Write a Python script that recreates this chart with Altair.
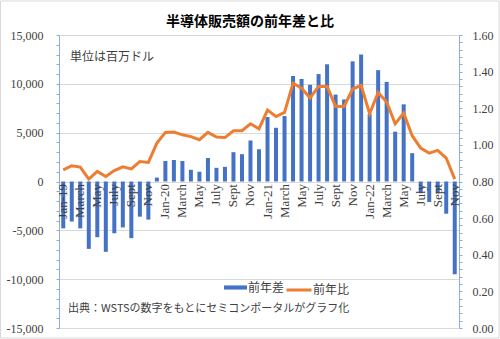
import altair as alt
import pandas as pd

# ---- data ----
years = ["19", "20", "21", "22"]
month_names = ["Jan", "Feb", "March", "April", "May", "June", "July", "Aug",
               "Sept", "Oct", "Nov", "Dec"]
months = []
for y in years:
    for i, m in enumerate(month_names):
        months.append(f"Jan-{y}" if i == 0 else m)
months = months[:47]  # Jan-19 .. Nov-22

diff = [-4800, -4100, -4800, -6900, -5700, -7200, -5300, -4700, -5800, -3600, -3900, 400,
        2100, 2200, 2100, 1200, 1000, 2400, 1400, 1500, 3000, 2800, 4200, 3300,
        6600, 5500, 6700, 10800, 10500, 9900, 11000, 12000, 8900, 8400, 12300, 13000,
        6900, 11400, 10200, 5100, 7900, 2900, -1200, -2100, -1200, -3300, -9500]

ratio = [0.864, 0.886, 0.879, 0.813, 0.855, 0.827, 0.860, 0.880, 0.869, 0.909, 0.904, 1.010,
         1.068, 1.070, 1.055, 1.045, 1.028, 1.068, 1.043, 1.040, 1.077, 1.077, 1.115, 1.088,
         1.190, 1.155, 1.177, 1.337, 1.310, 1.256, 1.319, 1.319, 1.210, 1.210, 1.305, 1.325,
         1.170, 1.286, 1.234, 1.115, 1.174, 1.050, 0.982, 0.955, 0.970, 0.928, 0.813]

series_bar = "前年差"
series_line = "前年比"
title_text = "半導体販売額の前年差と比"
unit_text = "単位は百万ドル"
source_text = "出典：WSTSの数字をもとにセミコンポータルがグラフ化"

df = pd.DataFrame({
    "idx": list(range(len(months))),
    "label": months,
    "diff": diff,
    "ratio": ratio,
    "s1": series_bar,
    "s2": series_line,
})

shown = [m if i % 2 == 0 else "" for i, m in enumerate(months)]
label_expr = "[" + ",".join("'" + s + "'" for s in shown) + "][datum.value]"

BLUE = "#4472C4"
ORANGE = "#ED7D31"
AXIS_BLUE = "#8FAADC"
GRID = "#D9D9D9"
TXT = "#404040"
SERIF = "Liberation Serif"
JP = "Noto Sans CJK JP"

x_enc = alt.X(
    "idx:O",
    title=None,
    axis=alt.Axis(
        labelExpr=label_expr, labelAngle=-90, offset=-146.5, domain=False,
        ticks=False, grid=False, labelFont=SERIF, labelFontSize=13,
        labelColor=TXT, labelPadding=2, labelOverlap=False, zindex=1,
    ),
)

left_ticks = list(range(-15000, 15001, 1000))
right_ticks = [round(i * 0.04, 2) for i in range(41)]

bars = alt.Chart(df).mark_bar(size=4).encode(
    x=x_enc,
    y=alt.Y(
        "diff:Q",
        title=None,
        scale=alt.Scale(domain=[-15000, 15000], nice=False),
        axis=alt.Axis(
            values=left_ticks,
            labelExpr="datum.value % 5000 == 0 ? replace(format(datum.value, ','), '\u2212', '-') : ''",
            labelFont=SERIF, labelFontSize=12, labelColor=TXT, labelPadding=13,
            tickSize=3, tickColor=AXIS_BLUE, domainColor=AXIS_BLUE,
            gridColor=GRID,
            gridOpacity={"condition": {"test": "datum.value % 5000 == 0", "value": 1}, "value": 0},
        ),
    ),
    color=alt.Color(
        "s1:N",
        scale=alt.Scale(domain=[series_bar], range=[BLUE]),
        legend=alt.Legend(
            title=None, orient="none", legendX=165, legendY=241,
            symbolType="M-1,-0.18H1V0.18H-1Z", symbolSize=529,
            symbolStrokeWidth=0, labelFont=JP, labelFontSize=12,
            labelColor=TXT, labelOffset=1,
        ),
    ),
)

line = alt.Chart(df).mark_line(strokeWidth=3).encode(
    x=x_enc,
    y=alt.Y(
        "ratio:Q",
        title=None,
        scale=alt.Scale(domain=[0, 1.6], nice=False),
        axis=alt.Axis(
            orient="right", values=right_ticks,
            labelExpr="round(datum.value * 100) % 20 == 0 ? format(datum.value, '.2f') : ''",
            labelFont=SERIF, labelFontSize=12, labelColor=TXT, labelPadding=10,
            tickSize=3, tickColor=AXIS_BLUE, domainColor=AXIS_BLUE, grid=False,
        ),
    ),
    stroke=alt.Stroke(
        "s2:N",
        scale=alt.Scale(domain=[series_line], range=[ORANGE]),
        legend=alt.Legend(
            title=None, orient="none", legendX=226, legendY=241,
            symbolType="stroke", symbolSize=625, symbolStrokeWidth=3,
            labelFont=JP, labelFontSize=12, labelColor=TXT, labelOffset=0,
        ),
    ),
)


def text_layer(s, x, y, **kw):
    return alt.Chart(alt.Data(values=[{"t": s}])).mark_text(**kw).encode(
        text="t:N", x=alt.value(x), y=alt.value(y)
    )


frame = alt.Chart(alt.Data(values=[{"a": 1}])).mark_rect(
    fillOpacity=0, stroke=GRID, strokeWidth=1
).encode(x=alt.value(-58.5), x2=alt.value(440), y=alt.value(-34), y2=alt.value(303))

title = text_layer(title_text, 191, -13, font=JP, fontSize=14, fontWeight="bold",
                   color="#000000", align="center", baseline="middle")
unit = text_layer(unit_text, 11, 22, font=JP, fontSize=12, color=TXT,
                  align="left", baseline="middle")
source = text_layer(source_text, 9, 274, font=JP, fontSize=11, color=TXT,
                    align="left", baseline="middle")

chart = alt.layer(frame, bars, line, title, unit, source).resolve_scale(
    y="independent", color="independent"
).properties(
    width=400, height=293,
    padding={"left": 59, "top": 35, "right": 41, "bottom": 11},
    autosize=alt.AutoSizeParams(type="none"),
    background="white",
).configure_view(strokeWidth=0)

chart.save("out.html", embed_options={"renderer": "svg", "actions": False})
